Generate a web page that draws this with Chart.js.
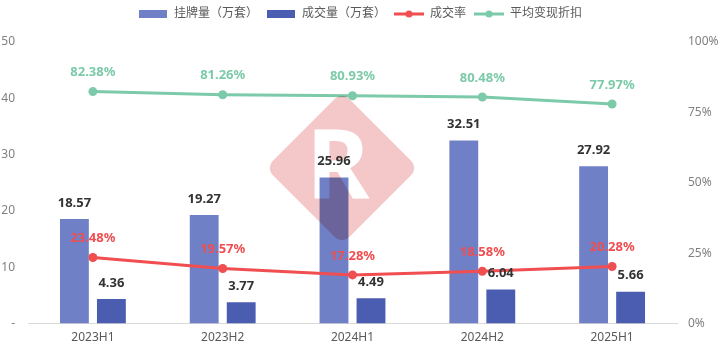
<!DOCTYPE html>
<html>
<head>
<meta charset="utf-8">
<script src="https://cdn.jsdelivr.net/npm/chart.js@4"></script>
<style>
  html, body { margin: 0; padding: 0; background: #fff; }
  #wrap { width: 720px; height: 352px; }
</style>
</head>
<body>
<div id="wrap"><canvas id="c" width="720" height="352"></canvas></div>
<script>
// data
var periods = ['2023H1', '2023H2', '2024H1', '2024H2', '2025H1'];
var listings = [18.57, 19.27, 25.96, 32.51, 27.92];   // 挂牌量（万套）
var deals = [4.36, 3.77, 4.49, 6.04, 5.66];           // 成交量（万套）
var dealRate = [23.48, 19.57, 17.28, 18.58, 20.28];   // 成交率 %
var discount = [82.38, 81.26, 80.93, 80.48, 77.97];   // 平均变现折扣 %

var FONT = "'Noto Sans', 'Noto Sans CJK SC', sans-serif";
var C_BAR1 = '#7080c6', C_BAR2 = '#4b5db0', C_RED = '#f04e50', C_GREEN = '#7ccaa9';

function legendIcon(color, isLine) {
  var cv = document.createElement('canvas');
  cv.width = 30; cv.height = 10;
  var g = cv.getContext('2d');
  g.fillStyle = color;
  if (isLine) {
    g.fillRect(0, 3.5, 30, 3);
    g.beginPath(); g.arc(15, 5, 3.5, 0, Math.PI * 2); g.fill();
  } else {
    g.fillRect(1, 1, 28, 8);
  }
  return cv;
}

// extra room under the legend
var legendGap = {
  id: 'legendGap',
  beforeInit: function(chart) {
    var fit = chart.legend.fit;
    chart.legend.fit = function() {
      fit.bind(chart.legend)();
      this.height += 12;
    };
  }
};

// value labels drawn at the element positions the library computed
var valueLabels = {
  id: 'valueLabels',
  afterDatasetsDraw: function(chart) {
    var ctx = chart.ctx;
    ctx.save();
    ctx.textAlign = 'center';
    ctx.textBaseline = 'middle';
    chart.data.datasets.forEach(function(ds, i) {
      var meta = chart.getDatasetMeta(i);
      meta.data.forEach(function(el, j) {
        var v = ds.data[j];
        if (ds.type === 'bar') {
          ctx.fillStyle = '#333';
          ctx.font = 'bold 13px ' + FONT;
          ctx.fillText(v.toFixed(2), el.x, el.y - 16);
        } else {
          ctx.fillStyle = ds.borderColor;
          ctx.font = 'bold 13px ' + FONT;
          ctx.fillText(v.toFixed(2) + '%', el.x, el.y - 19);
        }
      });
    });
    ctx.restore();
  }
};

// pale logo watermark over the middle of the chart
var watermark = {
  id: 'watermark',
  afterDraw: function(chart) {
    var s = 170;
    var off = document.createElement('canvas');
    off.width = s; off.height = s;
    var g = off.getContext('2d');
    g.translate(s / 2, s / 2);
    g.rotate(Math.PI / 4);
    var h = 54, r = 10;
    g.fillStyle = 'rgb(244,200,200)';
    g.beginPath();
    g.moveTo(-h + r, -h);
    g.arcTo(h, -h, h, h, r);
    g.arcTo(h, h, -h, h, r);
    g.arcTo(-h, h, -h, -h, r);
    g.arcTo(-h, -h, h, -h, r);
    g.closePath();
    g.fill();
    g.setTransform(1, 0, 0, 1, 0, 0);
    g.globalCompositeOperation = 'destination-out';
    g.font = 'bold 96px ' + FONT;
    g.textAlign = 'center';
    g.textBaseline = 'middle';
    g.fillText('R', s / 2 - 4, s / 2 + 4);
    var ctx = chart.ctx;
    ctx.save();
    ctx.globalCompositeOperation = 'multiply';
    ctx.drawImage(off, 342 - s / 2, 168 - s / 2);
    ctx.restore();
  }
};

new Chart(document.getElementById('c').getContext('2d'), {
  data: {
    labels: periods,
    datasets: [{
      type: 'bar',
      label: '挂牌量（万套）',
      data: listings,
      backgroundColor: C_BAR1,
      yAxisID: 'y',
      order: 2,
      barPercentage: 0.78,
      categoryPercentage: 0.57
    }, {
      type: 'bar',
      label: '成交量（万套）',
      data: deals,
      backgroundColor: C_BAR2,
      yAxisID: 'y',
      order: 2,
      barPercentage: 0.78,
      categoryPercentage: 0.57
    }, {
      type: 'line',
      label: '成交率',
      data: dealRate,
      borderColor: C_RED,
      backgroundColor: C_RED,
      borderWidth: 3,
      pointRadius: 4.5,
      pointBorderWidth: 0,
      yAxisID: 'y1',
      order: 1
    }, {
      type: 'line',
      label: '平均变现折扣',
      data: discount,
      borderColor: C_GREEN,
      backgroundColor: C_GREEN,
      borderWidth: 3,
      pointRadius: 4.5,
      pointBorderWidth: 0,
      yAxisID: 'y1',
      order: 1
    }]
  },
  options: {
    responsive: false,
    animation: false,
    layout: { padding: { top: 0, bottom: 0, left: 0, right: 0 } },
    plugins: {
      tooltip: { enabled: false },
      legend: {
        position: 'top',
        labels: {
          usePointStyle: true,
          pointStyleWidth: 30,
          padding: 8,
          color: '#595959',
          font: { family: FONT, size: 12 },
          generateLabels: function(chart) {
            return chart.data.datasets.map(function(ds, i) {
              return {
                text: ds.label,
                pointStyle: legendIcon(ds.type === 'line' ? ds.borderColor : ds.backgroundColor, ds.type === 'line'),
                fillStyle: ds.backgroundColor,
                strokeStyle: ds.backgroundColor,
                lineWidth: 0,
                fontColor: '#595959',
                datasetIndex: i
              };
            });
          }
        }
      }
    },
    scales: {
      x: {
        grid: { display: false, drawTicks: false },
        border: { display: true, color: '#d9d9d9' },
        ticks: { color: '#595959', padding: 7, font: { family: FONT, size: 12 } }
      },
      y: {
        position: 'left',
        min: 0, max: 50,
        grid: { display: false, drawTicks: false },
        border: { display: false },
        ticks: {
          stepSize: 10,
          color: '#808080',
          padding: 13,
          font: { family: FONT, size: 12 },
          callback: function(v) { return v === 0 ? '-' : v; }
        },
        afterFit: function(s) { s.width = 28; }
      },
      y1: {
        position: 'right',
        min: 0, max: 100,
        grid: { display: false, drawTicks: false },
        border: { display: false },
        ticks: {
          stepSize: 25,
          color: '#808080',
          padding: 11,
          font: { family: FONT, size: 12 },
          callback: function(v) { return v + '%'; }
        },
        afterFit: function(s) { s.width = 43; }
      }
    }
  },
  plugins: [legendGap, valueLabels, watermark]
});
</script>
</body>
</html>
